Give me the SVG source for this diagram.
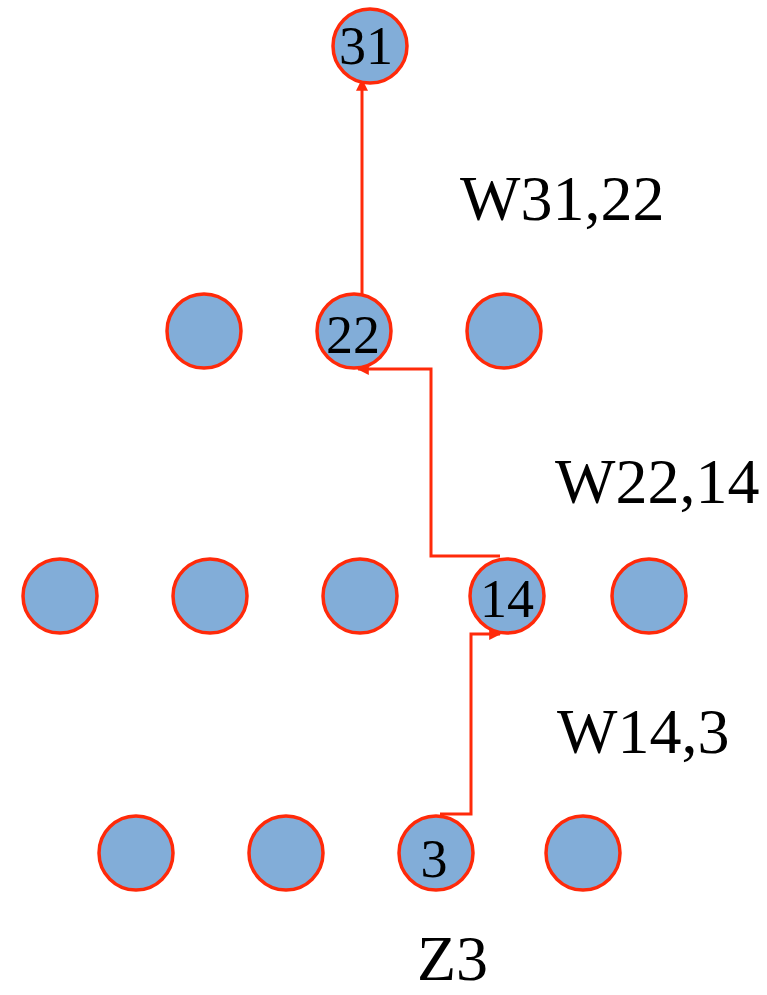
<svg xmlns="http://www.w3.org/2000/svg" width="767" height="995" viewBox="0 0 767 995">
<style>
.n{fill:#82ADD8;stroke:#FF2A0A;stroke-width:3.5}
.c{fill:none;stroke:#FF2A0A;stroke-width:3}
.t{font-family:"Liberation Serif",serif;font-size:54px;fill:#000;text-anchor:middle}
.w{font-family:"Liberation Serif",serif;font-size:64px;fill:#000}
</style>
<defs>
<marker id="ah" viewBox="0 0 10 10" refX="9" refY="5" markerWidth="4" markerHeight="4" orient="auto" markerUnits="strokeWidth">
<path d="M0,0 L10,5 L0,10 z" fill="#FF2A0A"/>
</marker>
</defs>
<g id="connectors">
<path class="c" d="M362,294 L362,80" marker-end="url(#ah)"/>
<path class="c" d="M500,556 L431,556 L431,369 L358,369" marker-end="url(#ah)"/>
<path class="c" d="M440,814 L471,814 L471,634 L500,634" marker-end="url(#ah)"/>
</g>
<g id="n31"><circle class="n" cx="370" cy="46" r="37"/><text class="t" x="366" y="64">31</text></g>
<g id="n21"><circle class="n" cx="204" cy="331" r="37"/></g>
<g id="n22"><circle class="n" cx="354" cy="331" r="37"/><text class="t" x="353" y="353">22</text></g>
<g id="n23"><circle class="n" cx="504" cy="331" r="37"/></g>
<g id="n11"><circle class="n" cx="60" cy="596" r="37"/></g>
<g id="n12"><circle class="n" cx="210" cy="596" r="37"/></g>
<g id="n13"><circle class="n" cx="360" cy="596" r="37"/></g>
<g id="n14"><circle class="n" cx="507" cy="596" r="37"/><text class="t" x="507" y="617">14</text></g>
<g id="n15"><circle class="n" cx="649" cy="596" r="37"/></g>
<g id="n01"><circle class="n" cx="136" cy="853" r="37"/></g>
<g id="n02"><circle class="n" cx="286" cy="853" r="37"/></g>
<g id="n03"><circle class="n" cx="436" cy="853" r="37"/><text class="t" x="434" y="877">3</text></g>
<g id="n04"><circle class="n" cx="583" cy="853" r="37"/></g>
<g id="labels">
<text class="w" x="417" y="980">Z3</text>
<text class="w" x="460" y="220">W31,22</text>
<text class="w" x="555" y="503">W22,14</text>
<text class="w" x="557" y="753">W14,3</text>
</g>
</svg>
